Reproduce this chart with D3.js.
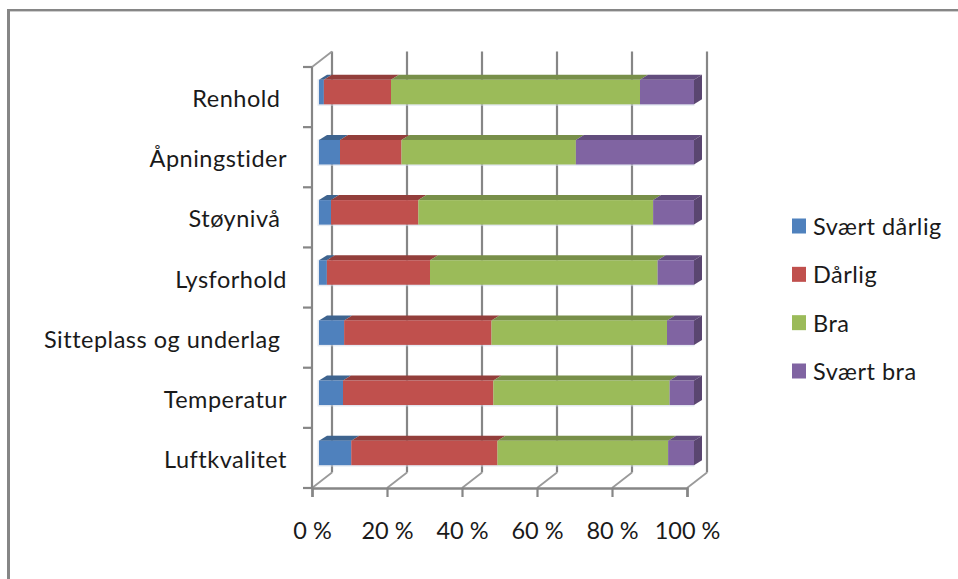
<!DOCTYPE html>
<html>
<head>
<meta charset="utf-8">
<script src="https://cdn.jsdelivr.net/npm/d3@7/dist/d3.min.js"></script>
<style>
html,body{margin:0;padding:0;background:#fff;overflow:hidden}
svg{display:block}
text{font-family:Lato,"Open Sans",sans-serif;fill:#1a1a1a;white-space:pre}
</style>
</head>
<body>
<svg id="c" width="958" height="579"></svg>
<script>
const categories = ["Renhold\u00a0", "Åpningstider", "Støynivå\u00a0", "Lysforhold", "Sitteplass og underlag\u00a0", "Temperatur", "Luftkvalitet"];
const seriesNames = ["Svært dårlig", "Dårlig", "Bra", "Svært bra"];
const sværtDårlig = [1.3, 5.6, 3.2, 2.1, 6.7, 6.4, 8.6];
const dårlig = [17.9, 16.4, 23.3, 27.5, 39.3, 40.1, 39.0];
const bra = [66.4, 46.5, 62.6, 60.7, 46.8, 47.0, 45.5];
const sværtBra = [14.4, 31.5, 10.9, 9.7, 7.2, 6.5, 6.9];
const seriesValues = [sværtDårlig, dårlig, bra, sværtBra];
const tickValues = [0, 20, 40, 60, 80, 100];
const frontColors = ["#4F81BD", "#C0504D", "#9BBB59", "#8064A2"];
const topColors = ["#3E648F", "#933E3B", "#788F49", "#624D7D"];
const sideColor = "#5A4670";
const gridColor = "#868686";

const svg = d3.select("#c");
const x = d3.scaleLinear().domain([0, 100]).range([312, 687]);
const y = d3.scaleBand().domain(categories).range([67, 488]);
const wallDx = 20, wallDy = -15.5;   // depth of the 3D box
const barDx = 7, barDepthX = 8, barDepthY = 5, barH = 24.5, barShift = -5;
const fontSize = 23.5, spacing = 0.5;

// frame
svg.append("rect").attr("x", 7).attr("y", 9).attr("width", 951).attr("height", 2.4).attr("fill", gridColor);
svg.append("rect").attr("x", 7).attr("y", 9).attr("width", 3).attr("height", 570).attr("fill", gridColor);

// back wall grid and floor diagonals
const grid = svg.append("g");
grid.selectAll("line.v").data(tickValues).join("line")
  .attr("x1", d => x(d) + wallDx).attr("x2", d => x(d) + wallDx)
  .attr("y1", 67 + wallDy).attr("y2", 488 + wallDy)
  .attr("stroke", gridColor).attr("stroke-width", 2.2);
grid.selectAll("line.d").data(tickValues).join("line")
  .attr("x1", d => x(d)).attr("x2", d => x(d) + wallDx)
  .attr("y1", 488).attr("y2", 488 + wallDy)
  .attr("stroke", "#9a9a9a").attr("stroke-width", 1.8);
grid.append("line").attr("x1", 312).attr("x2", 312 + wallDx).attr("y1", 67).attr("y2", 67 + wallDy)
  .attr("stroke", "#9a9a9a").attr("stroke-width", 1.8);

// axes
const xAxis = d3.axisBottom(x).tickValues(tickValues).tickFormat(d => d + " %").tickSize(9).tickPadding(25);
const gx = svg.append("g").attr("transform", "translate(0,488)").call(xAxis);
const yEdges = d3.range(categories.length + 1).map(i => 67 + i * y.step());
gx.select(".domain").attr("stroke", gridColor).attr("stroke-width", 2.4);
gx.selectAll(".tick line").attr("stroke", gridColor).attr("stroke-width", 2.2);
gx.selectAll("text").attr("font-size", fontSize).attr("fill", "#1a1a1a").style("font-family", "Lato");

const gy = svg.append("g");
gy.append("line").attr("x1", 312).attr("x2", 312).attr("y1", 67).attr("y2", 489).attr("stroke", gridColor).attr("stroke-width", 2.2);
gy.selectAll("line.t").data(yEdges).join("line")
  .attr("x1", 303).attr("x2", 312).attr("y1", d => d).attr("y2", d => d)
  .attr("stroke", gridColor).attr("stroke-width", 2.2);
gy.selectAll("text").data(categories).join("text")
  .attr("x", 287).attr("y", d => y(d) + y.bandwidth() / 2 + 1)
  .attr("text-anchor", "end").attr("dominant-baseline", "central")
  .attr("font-size", fontSize).attr("letter-spacing", spacing).text(d => d);

// stacked 3D bars
const rows = categories.map((c, i) => {
  let acc = 0;
  return seriesValues.map((s, k) => {
    const r = { cat: c, k, x0: acc, x1: acc + s[i] };
    acc += s[i];
    return r;
  });
});
const barsG = svg.append("g");
rows.forEach(row => {
  const top = y(row[0].cat) + y.bandwidth() / 2 + barShift - barH / 2;
  const g = barsG.append("g");
  const total = row[row.length - 1].x1;
  // soft halo
  g.append("rect").attr("x", x(0) + barDx - 1.5).attr("y", top - 0.5)
    .attr("width", x(total) - x(0) + 2).attr("height", barH + 2)
    .attr("fill", "#cfd8e8").attr("opacity", 0.55);
  // top faces
  g.selectAll("polygon.top").data(row).join("polygon")
    .attr("points", d => {
      const a = x(d.x0) + barDx, b = x(d.x1) + barDx;
      return [[a, top], [b, top], [b + barDepthX, top - barDepthY], [a + barDepthX, top - barDepthY]].join(" ");
    })
    .attr("fill", d => topColors[d.k]);
  // side face
  const e = x(total) + barDx;
  g.append("polygon")
    .attr("points", [[e, top], [e + barDepthX, top - barDepthY], [e + barDepthX, top + barH - barDepthY], [e, top + barH]].join(" "))
    .attr("fill", sideColor);
  // front faces
  g.selectAll("rect.f").data(row).join("rect")
    .attr("class", "f")
    .attr("x", d => x(d.x0) + barDx).attr("y", top)
    .attr("width", d => x(d.x1) - x(d.x0)).attr("height", barH)
    .attr("fill", d => frontColors[d.k]);
});

// legend
const ly = d3.scalePoint().domain(seriesNames).range([226, 371]);
const lg = svg.append("g");
lg.selectAll("rect").data(seriesNames).join("rect")
  .attr("x", 792).attr("y", d => ly(d) - 7.5).attr("width", 14).attr("height", 15)
  .attr("fill", (d, i) => frontColors[i]);
lg.selectAll("text").data(seriesNames).join("text")
  .attr("x", 813).attr("y", d => ly(d)).attr("dominant-baseline", "central")
  .attr("font-size", fontSize).attr("letter-spacing", spacing).text(d => d);
</script>
</body>
</html>
